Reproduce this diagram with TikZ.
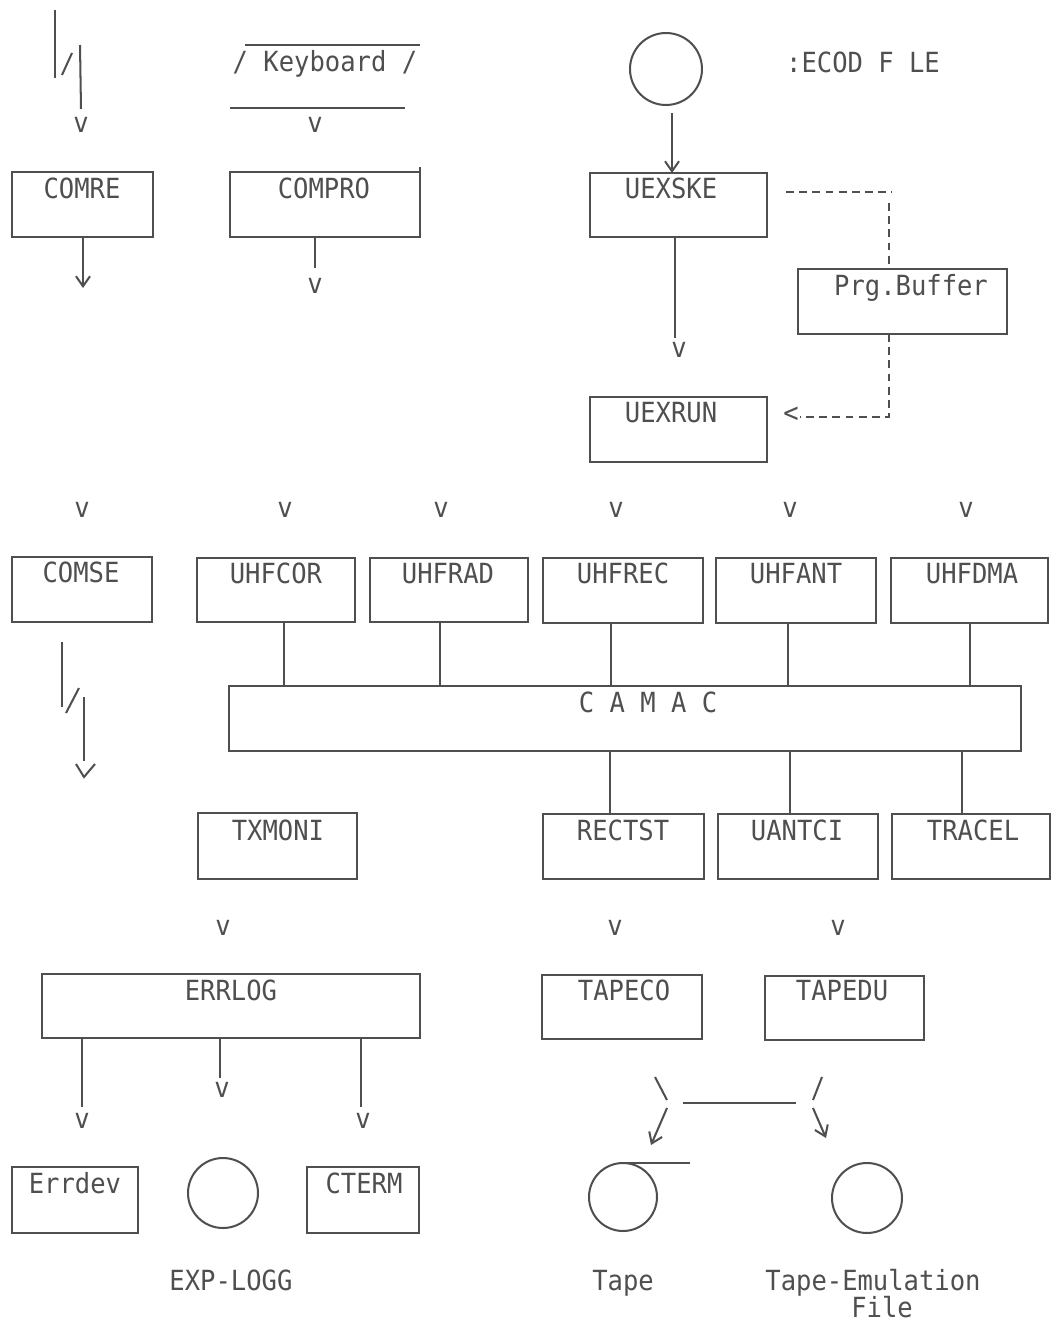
\documentclass[tikz,border=0pt]{standalone}
\usepackage{fontspec}
\newfontfamily\tw{DejaVu Sans Mono}[FakeStretch=0.92]
\usetikzlibrary{arrows.meta,calc}
\definecolor{ink}{HTML}{4F4F4F}
\newcommand\mybox[8]{%
  \node[box, minimum width={(#4-(#2))*0.02cm}, minimum height={(#5-(#3))*0.02cm}] (#1) at ({(#2+#4)/2},{(#3+#5)/2}) {};
  \node[lbl] (#1-t) at (#7,#8) {#6};}
\begin{document}
\begin{tikzpicture}[x=0.02cm,y=-0.02cm, line width=1.15pt, color=ink,
  box/.style={draw=ink, line width=1.15pt, inner sep=0pt, outer sep=0pt, rectangle},
  lbl/.style={font=\tw\fontsize{15.8}{18}\selectfont, text=ink, inner sep=0pt, outer sep=0pt, anchor=base},
  dsh/.style={dash pattern=on 4.5pt off 3pt},
  hand/.style={-{Straight Barb[length=0.2cm,width=0.28cm,line width=1.15pt]}},
  disc/.style={draw=ink, circle, line width=1.15pt, inner sep=0pt, outer sep=0pt, minimum size=#1}]
\useasboundingbox (0,0) rectangle (1051,1329);

% ---------- top left: communication link ----------
\draw (55,10) -- (55,78);
\draw (62,75) -- (72,53);
\node[lbl] (v0) at (81,132) {v};
\draw (80,45) -- ($(v0.north)+(0,-8)$);
\mybox{comre}{12}{172}{153}{237}{COMRE}{82}{198}
\coordinate (comreEnd) at (83,288);
\draw[hand] (comre.south -| comreEnd) -- (comreEnd);

% ---------- keyboard ----------
\node[lbl] (kbd) at (325,71) {/ Keyboard /};
\draw (245,45) -- (420,45);
\draw (230,108) -- (405,108);
\node[lbl] (vkbd) at (315,132) {v};
\mybox{compro}{230}{172}{420}{237}{COMPRO}{324}{198}
\draw (compro.north east) -- ++(0,-5);
\node[lbl] (vcompro) at (315,293) {v};
\draw (compro.south -| vcompro) -- ($(vcompro.north)+(0,-10)$);

% ---------- UEXSKE / UEXRUN ----------
\node[disc=1.44cm] (src) at (666,69) {};
\node[lbl] at (863,72) {:ECOD F LE};
\mybox{uexske}{590}{173}{767}{237}{UEXSKE}{671}{198}
\coordinate (a1) at (672,113);
\draw[hand] (a1) -- (a1 |- uexske.north);
\node[lbl] (vuex) at (679,357) {v};
\coordinate (a2) at (675,338);
\draw (a2 |- uexske.south) -- (a2);
\mybox{uexrun}{590}{397}{767}{462}{UEXRUN}{671}{422}
\mybox{buffer}{798}{269}{1007}{334}{Prg.Buffer}{911}{295}
\coordinate (dx) at (889,0);
\draw[dsh] (786,192) -- (892,192);
\draw[dsh] (889,203) -- (dx |- buffer.north);
\node[lbl] (lt) at (791,422) {<};
\draw[dsh] (dx |- buffer.south) -- (889,417) -- (800,417);

% ---------- row of v ----------
\foreach \x [count=\i] in {82,285,441,616,790,966}
  \node[lbl] (vr\i) at (\x,517) {v};

% ---------- second row boxes ----------
\mybox{comse}{12}{557}{152}{622}{COMSE}{81}{582}
\mybox{uhfcor}{197}{558}{355}{622}{UHFCOR}{276}{583}
\mybox{uhfrad}{370}{558}{528}{622}{UHFRAD}{448}{583}
\mybox{uhfrec}{543}{558}{703}{623}{UHFREC}{623}{583}
\mybox{uhfant}{716}{558}{876}{623}{UHFANT}{796}{583}
\mybox{uhfdma}{891}{558}{1048}{623}{UHFDMA}{972}{583}
\mybox{camac}{229}{686}{1021}{751}{C A M A C}{648}{712}
\foreach \n/\x in {uhfcor/284,uhfrad/440,uhfrec/611,uhfant/788,uhfdma/970}
  \draw (\n.south -| \x,0) -- (camac.north -| \x,0);

% COMSE link
\draw (62,642) -- (62,707);
\draw (66,713) -- (79,688);
\draw (84,697) -- (84,761);
\draw (76,764) -- (84,777) -- (95,764);

% ---------- third row ----------
\mybox{txmoni}{198}{813}{357}{879}{TXMONI}{278}{840}
\mybox{rectst}{543}{814}{704}{879}{RECTST}{623}{840}
\mybox{uantci}{718}{814}{878}{879}{UANTCI}{797}{840}
\mybox{tracel}{892}{814}{1050}{879}{TRACEL}{973}{840}
\foreach \n/\x in {rectst/610,uantci/790,tracel/962}
  \draw (camac.south -| \x,0) -- (\n.north -| \x,0);

\node[lbl] (vt1) at (223,935) {v};
\node[lbl] (vt2) at (615,935) {v};
\node[lbl] (vt3) at (838,935) {v};

% ---------- fourth row ----------
\mybox{errlog}{42}{974}{420}{1038}{ERRLOG}{231}{1000}
\mybox{tapeco}{542}{975}{702}{1039}{TAPECO}{624}{1000}
\mybox{tapedu}{765}{976}{924}{1040}{TAPEDU}{842}{1000}

\node[lbl] (ve1) at (82,1128) {v};
\node[lbl] (ve2) at (222,1097) {v};
\node[lbl] (ve3) at (363,1128) {v};
\draw (errlog.south -| 82,0) -- (82,1107);
\draw (errlog.south -| 220,0) -- (220,1078);
\draw (errlog.south -| 361,0) -- (361,1107);

\mybox{errdev}{12}{1167}{138}{1233}{Errdev}{75}{1193}
\mybox{cterm}{307}{1167}{419}{1233}{CTERM}{364}{1193}
\node[disc=1.4cm] (explog) at (223,1193) {};
\node[lbl] at (231,1290) {EXP-LOGG};

% ---------- tape ----------
\draw (655,1077) -- (667,1100);
\draw (683,1103) -- (796,1103);
\draw (822,1077) -- (813,1100);
\draw[hand] (667,1108) -- (651,1145);
\draw[hand] (813,1108) -- (826,1138);
\node[disc=1.36cm] (tape) at (623,1197) {};
\draw (tape.north) -- (tape.north -| 690,0);
\node[disc=1.4cm] (emu) at (867,1198) {};
\node[lbl] at (623,1290) {Tape};
\node[lbl] at (873,1290) {Tape-Emulation};
\node[lbl] at (882,1317) {File};
\end{tikzpicture}
\end{document}
